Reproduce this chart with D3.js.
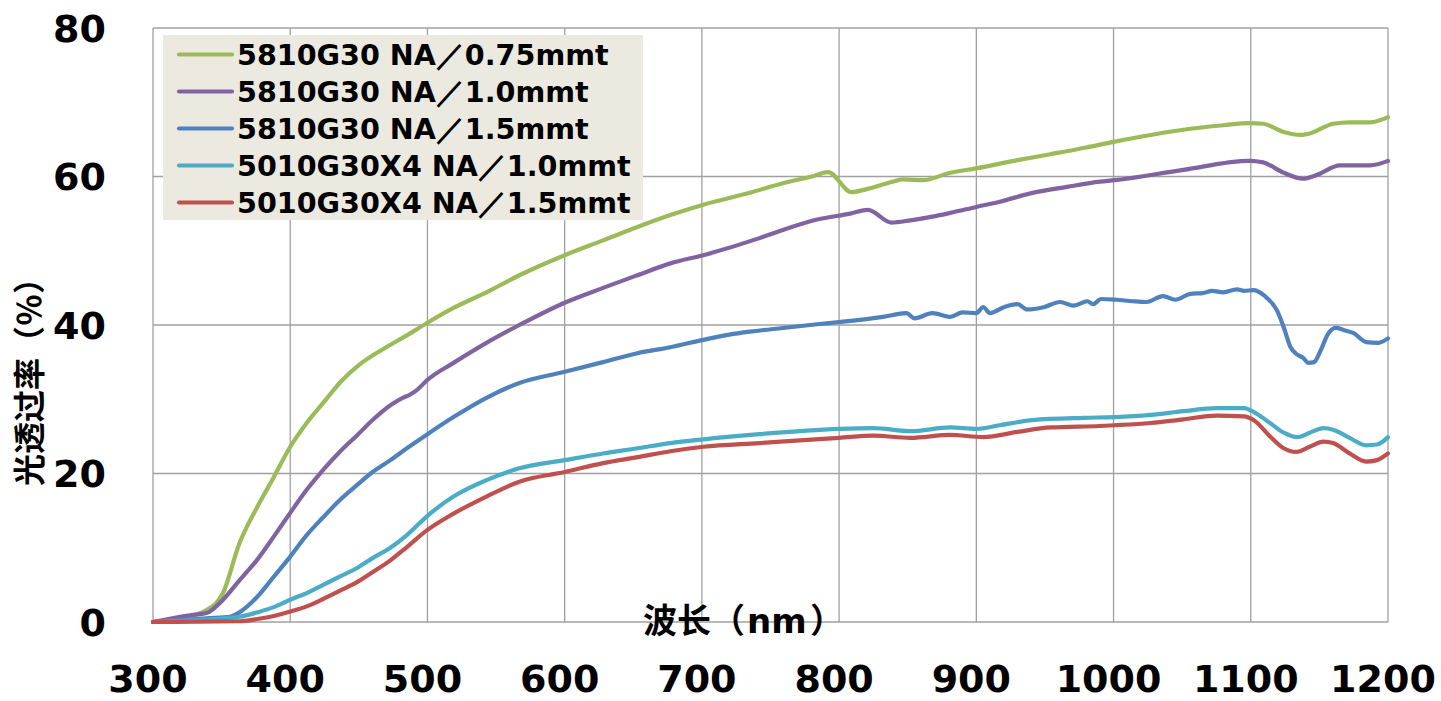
<!DOCTYPE html>
<html><head><meta charset="utf-8">
<script src="https://cdn.jsdelivr.net/npm/d3@7"></script>
<style>html,body{margin:0;padding:0;background:#fff;overflow:hidden}</style>
</head><body>
<svg id="chart" width="1441" height="701"></svg>
<script>
// ---- data ----
const seriesNames = ["5810G30 NA／0.75mmt","5810G30 NA／1.0mmt","5810G30 NA／1.5mmt","5010G30X4 NA／1.0mmt","5010G30X4 NA／1.5mmt"];
const seriesColors = ["#9BBB59","#8064A2","#4F81BD","#4BACC6","#C0504D"];
const xTicks = [300,400,500,600,700,800,900,1000,1100,1200];
const yTicks = [0,20,40,60,80];

const green075 = [[300,0],[320,0.5],[339,1.6],[351,3.9],[363,10.6],[376,15.5],[388,19.5],[400,23.6],[412,26.8],[424,29.5],[438,32.6],[450,34.6],[470,37.0],[485,38.6],[500,40.3],[519,42.3],[543,44.4],[567,46.7],[600,49.4],[628,51.4],[653,53.2],[677,54.8],[701,56.2],[735,57.8],[759,59.1],[780,60.0],[792,60.6],[809,57.9],[820,58.3],[839,59.3],[847,59.6],[861,59.5],[881,60.5],[900,61.1],[930,62.2],[954,63.0],[980,63.9],[1001,64.7],[1051,66.3],[1080,66.9],[1099,67.2],[1109,67.1],[1124,66.0],[1136,65.6],[1143,65.8],[1160,67.1],[1172,67.3],[1187,67.3],[1200,68.0]];
const purple10 = [[300,0],[327,0.9],[339,1.2],[351,3.0],[363,5.6],[376,8.4],[388,11.5],[400,14.7],[412,17.8],[424,20.5],[436,22.9],[449,25.2],[460,27.2],[473,29.2],[482,30.2],[487,30.6],[492,31.2],[500,32.6],[519,34.9],[543,37.6],[567,40.0],[600,43.0],[628,45.0],[653,46.7],[677,48.3],[701,49.4],[742,51.7],[759,52.8],[784,54.2],[808,55.0],[821,55.5],[838,53.8],[852,54.1],[868,54.6],[881,55.1],[900,55.9],[917,56.6],[941,57.8],[966,58.6],[990,59.3],[1001,59.5],[1051,60.9],[1099,62.1],[1109,61.9],[1124,60.5],[1138,59.7],[1148,60.2],[1165,61.5],[1187,61.5],[1200,62.1]];
const blue15 = [[300,0],[339,0.5],[356,0.7],[363,1.3],[376,3.4],[388,6.1],[400,8.8],[412,11.7],[424,14.1],[436,16.4],[449,18.5],[460,20.2],[473,21.8],[485,23.4],[500,25.3],[519,27.6],[543,30.2],[567,32.2],[600,33.7],[628,35.0],[653,36.2],[677,37.0],[701,38.0],[720,38.7],[735,39.1],[759,39.6],[784,40.1],[800,40.4],[832,41.1],[849,41.6],[855,40.9],[868,41.6],[881,41.1],[890,41.7],[900,41.6],[905,42.4],[910,41.6],[920,42.4],[930,42.8],[937,42.1],[949,42.4],[961,43.1],[971,42.6],[981,43.2],[985,42.8],[991,43.5],[1002,43.4],[1014,43.2],[1024,43.1],[1036,43.9],[1045,43.4],[1056,44.2],[1065,44.3],[1072,44.6],[1080,44.4],[1090,44.8],[1095,44.6],[1102,44.7],[1112,43.6],[1119,42.0],[1124,39.7],[1129,37.0],[1134,36.0],[1138,35.6],[1142,34.9],[1146,35.0],[1151,36.6],[1156,38.7],[1162,39.6],[1168,39.3],[1175,38.9],[1184,37.7],[1193,37.6],[1200,38.2]];
const cyan10 = [[300,0],[351,0.5],[363,0.7],[376,1.3],[388,2.0],[400,3.0],[412,3.9],[424,5.0],[436,6.1],[449,7.3],[460,8.6],[473,10.0],[485,11.7],[500,14.3],[519,16.9],[543,19.1],[567,20.7],[600,21.8],[628,22.7],[653,23.4],[677,24.1],[701,24.6],[742,25.3],[800,26.0],[825,26.1],[852,25.7],[881,26.2],[900,26.0],[917,26.5],[941,27.2],[978,27.5],[1001,27.6],[1027,27.9],[1051,28.4],[1075,28.8],[1095,28.8],[1102,28.3],[1114,26.8],[1124,25.5],[1134,24.9],[1143,25.5],[1153,26.1],[1160,25.9],[1172,24.8],[1184,23.8],[1192,23.9],[1200,24.9]];
const red15 = [[300,0],[363,0.1],[376,0.4],[388,0.8],[400,1.4],[412,2.1],[424,3.1],[436,4.2],[449,5.4],[460,6.7],[473,8.3],[485,10.1],[500,12.4],[519,14.6],[543,16.9],[567,18.9],[600,20.2],[628,21.4],[653,22.2],[677,23.0],[701,23.6],[742,24.1],[800,24.8],[825,25.1],[852,24.8],[881,25.2],[905,24.9],[930,25.6],[954,26.2],[990,26.4],[1001,26.5],[1027,26.8],[1051,27.3],[1075,27.8],[1095,27.7],[1102,27.2],[1114,25.0],[1124,23.4],[1133,22.9],[1143,23.6],[1153,24.3],[1160,24.1],[1172,22.7],[1184,21.6],[1192,21.8],[1200,22.7]];
const seriesData = [green075, purple10, blue15, cyan10, red15];

const xTitleParts = ["波长（", "nm", "）"];
const yTitle = "光透过率（％）";

// ---- layout ----
const svg = d3.select("#chart");
const L = 153, R = 1388, T = 28, B = 622;
const x = d3.scaleLinear().domain([300,1200]).range([L,R]);
const y = d3.scaleLinear().domain([0,80]).range([B,T]);
const numFont = "'DejaVu Sans', Verdana, sans-serif";
const cjkFont = "'Noto Sans CJK SC', 'Noto Sans CJK JP', sans-serif";

svg.append("rect").attr("width",1441).attr("height",701).attr("fill","#fff");

// grid
const grid = svg.append("g").attr("stroke","#A0A0A0").attr("stroke-width",1.3);
grid.selectAll("line.v").data(xTicks).join("line")
  .attr("x1",d=>x(d)).attr("x2",d=>x(d)).attr("y1",T).attr("y2",B);
grid.selectAll("line.h").data(yTicks).join("line")
  .attr("x1",L).attr("x2",R).attr("y1",d=>y(d)).attr("y2",d=>y(d));

// tick labels
svg.append("g").selectAll("text").data(yTicks).join("text")
  .attr("x",106).attr("y",d=>y(d)).attr("dy","0.36em")
  .attr("text-anchor","end").attr("font-family",numFont).attr("font-weight","bold")
  .attr("font-size",38).attr("fill","#000").text(d=>d);
svg.append("g").selectAll("text").data(xTicks).join("text")
  .attr("x",d=>x(d)-5).attr("y",692)
  .attr("text-anchor","middle").attr("font-family",numFont).attr("font-weight","bold")
  .attr("font-size",38).attr("fill","#000").text(d=>d);

// lines
const line = d3.line().x(d=>x(d[0])).y(d=>y(d[1])).curve(d3.curveMonotoneX);
svg.append("g").selectAll("path").data(seriesData).join("path")
  .attr("d",line).attr("fill","none")
  .attr("stroke",(d,i)=>seriesColors[i]).attr("stroke-width",4.2)
  .attr("stroke-linejoin","round").attr("stroke-linecap","round");

// axis titles
const xt = svg.append("text").attr("y",633).attr("font-weight","bold").attr("font-size",34).attr("fill","#000");
xt.append("tspan").attr("x",643).attr("font-family",cjkFont).text(xTitleParts[0]);
xt.append("tspan").attr("x",747).attr("font-family",numFont).text(xTitleParts[1]);
xt.append("tspan").attr("x",810).attr("font-family",cjkFont).text(xTitleParts[2]);

svg.append("text").attr("transform","translate(41,374) rotate(-90)")
  .attr("text-anchor","middle")
  .attr("font-family",cjkFont).attr("font-weight","bold").attr("font-size",32)
  .attr("fill","#000").text(yTitle);

// legend
const lg = svg.append("g");
lg.append("rect").attr("x",163).attr("y",35).attr("width",480).attr("height",185).attr("fill","#ECEAE0");
const rows = lg.selectAll("g").data(seriesNames).join("g")
  .attr("transform",(d,i)=>`translate(0,${65+i*37})`);
rows.append("line").attr("x1",179).attr("x2",232).attr("y1",-10.5).attr("y2",-10.5)
  .attr("stroke",(d,i)=>seriesColors[i]).attr("stroke-width",4.2).attr("stroke-linecap","round");
rows.append("text").attr("x",237).attr("y",0)
  .attr("font-family",numFont).attr("font-weight","bold").attr("font-size",28.6)
  .attr("fill","#000").text(d=>d);
</script>
</body></html>
